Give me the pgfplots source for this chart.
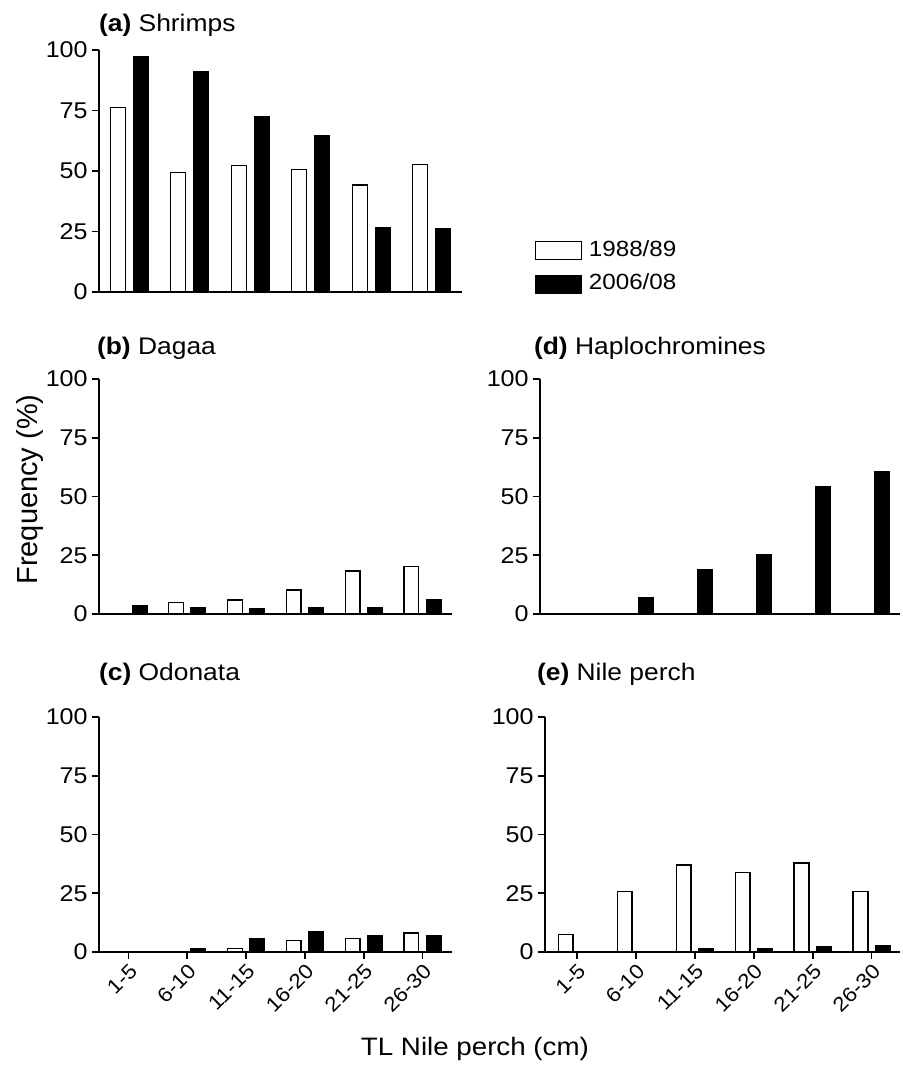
\documentclass[border=0pt]{standalone}
\usepackage{fontspec}
\setmainfont{Liberation Sans}[FakeStretch=1.1]
\newfontfamily\plainfont{Liberation Sans}
\usepackage{pgfplots}
\pgfplotsset{compat=1.18}

\pgfplotsset{
  panel/.style={
    scale only axis, anchor=south west, clip=false,
    axis x line*=bottom, axis y line*=left,
    axis line style={-, line width=0.8pt},
    ymin=0, ymax=100, ytick={0,25,50,75,100},
    xmin=-0.5, xmax=5.5,
    tick align=outside, major tick length=3.5pt,
    tick style={line width=0.8pt, black},
    /pgf/number format/assume math mode=true,
    yticklabel style={font=\fontsize{11.4}{13}\selectfont, inner sep=2pt},
    xtick=\empty,
    ybar, bar width=0.25,
  },
  bottompanel/.style={
    xtick={0,1,2,3,4,5},
    xticklabels={1-5,6-10,11-15,16-20,21-25,26-30},
    xticklabel style={rotate=45, anchor=north east,
      font=\fontsize{10.2}{12}\selectfont, inner sep=1pt},
  },
  old/.style={draw=black, fill=white, line width=0.65pt, bar shift=-0.19},
  new/.style={draw=black, fill=black, line width=0.65pt, bar shift=0.19},
  legkey/.style={legend image code/.code={
      \draw[##1] (0pt,-4.5pt) rectangle (23pt,4.5pt);}},
}
\tikzset{ttl/.style={anchor=base west, font=\fontsize{12}{14}\selectfont}}

\begin{document}
\begin{tikzpicture}
\useasboundingbox (0,0) rectangle (451.5pt,533.5pt);

% (a) Shrimps
\begin{axis}[panel, at={(49.5pt,387.5pt)}, width=181.5pt, height=121pt,
  legend style={draw=none, fill=none, inner sep=0pt, outer sep=0pt,
    at={(axis description cs:1.2,0.24)}, anchor=north west,
    font=\fontsize{11}{13}\selectfont,
    nodes={inner sep=3.5pt, text height=7.6pt, text depth=2.2pt}},
  legend cell align=left]
\addplot[old, legkey] coordinates {(0,76.2) (1,49.4) (2,52.4) (3,50.5) (4,44.2) (5,52.8)};
\addplot[new, legkey] coordinates {(0,97.2) (1,90.9) (2,72.4) (3,64.5) (4,26.5) (5,26.3)};
\legend{1988/89,2006/08}
\node[ttl, xshift=-3.5pt, yshift=9pt] at (rel axis cs:0,1) {\textbf{(a)} Shrimps};
\end{axis}

% (b) Dagaa
\begin{axis}[panel, at={(49.5pt,226.5pt)}, width=176.5pt, height=117.5pt,
  ylabel={\plainfont\fontsize{14.5}{17}\selectfont Frequency (\%)},
  ylabel style={at={(axis description cs:-0.195,0.53)}, anchor=center}]
\addplot[old] coordinates {(0,0) (1,4.8) (2,6.0) (3,10.2) (4,18.3) (5,20.3)};
\addplot[new] coordinates {(0,3.4) (1,2.7) (2,2.3) (3,2.7) (4,2.7) (5,6.0)};
\node[ttl, xshift=-4.5pt, yshift=12pt] at (rel axis cs:0,1) {\textbf{(b)} Dagaa};
\end{axis}

% (d) Haplochromines
\begin{axis}[panel, at={(270pt,226.5pt)}, width=180pt, height=117.5pt,
  xmin=-0.6, xmax=5.5]
\addplot[old] coordinates {(0,0) (1,0) (2,0) (3,0) (4,0) (5,0)};
\addplot[new] coordinates {(0,0) (1,6.8) (2,18.8) (3,25.4) (4,54.3) (5,60.7)};
\node[ttl, xshift=-6.5pt, yshift=12pt] at (rel axis cs:0,1) {\textbf{(d)} Haplochromines};
\end{axis}

% (c) Odonata
\begin{axis}[panel, bottompanel, at={(49.5pt,57.5pt)}, width=176.5pt, height=117.5pt,
  xlabel={TL Nile perch (cm)},
  xlabel style={at={(axis description cs:1.065,-0.413)}, anchor=center,
    font=\fontsize{12.6}{15}\selectfont}]
\addplot[old] coordinates {(0,0) (1,0.3) (2,1.4) (3,4.8) (4,5.7) (5,8.1)};
\addplot[new] coordinates {(0,0) (1,1.6) (2,5.8) (3,8.8) (4,7.0) (5,7.1)};
\node[ttl, xshift=-3.5pt, yshift=18.5pt] at (rel axis cs:0,1) {\textbf{(c)} Odonata};
\end{axis}

% (e) Nile perch
\begin{axis}[panel, bottompanel, at={(272.5pt,57.5pt)}, width=177.5pt, height=117.5pt,
  xmin=-0.54, xmax=5.48]
\addplot[old] coordinates {(0,7.4) (1,25.7) (2,37.0) (3,33.9) (4,37.9) (5,25.7)};
\addplot[new] coordinates {(0,0) (1,0) (2,1.3) (3,1.6) (4,2.4) (5,2.8)};
\node[ttl, xshift=-7.5pt, yshift=18.5pt] at (rel axis cs:0,1) {\textbf{(e)} Nile perch};
\end{axis}
\end{tikzpicture}
\end{document}
